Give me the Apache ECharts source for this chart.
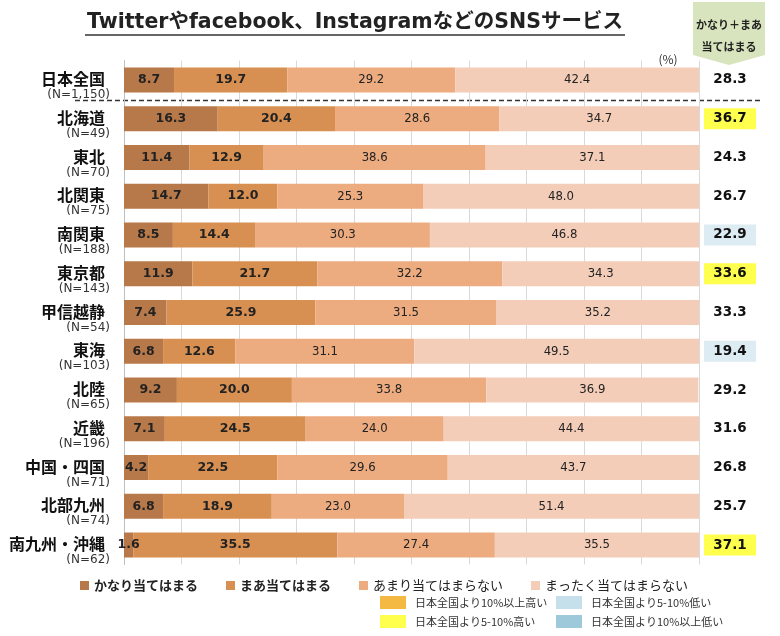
<!DOCTYPE html>
<html>
<head>
<meta charset="utf-8">
<title>SNSサービス</title>
<style>
    html, body { margin: 0; padding: 0; background: #fff; }
    #main { width: 780px; height: 636px; }
</style>
</head>
<body>
<div id="main"></div>
<script src="https://cdn.jsdelivr.net/npm/echarts@6/dist/echarts.min.js"></script>
<script type="text/javascript">
    // 地域と回答者数
    var regions = ['日本全国', '北海道', '東北', '北関東', '南関東', '東京都', '甲信越静', '東海', '北陸', '近畿', '中国・四国', '北部九州', '南九州・沖縄'];
    var sampleN = ['1,150', '49', '70', '75', '188', '143', '54', '103', '65', '196', '71', '74', '62'];
    // 回答割合 (%)
    var kanari = [8.7, 16.3, 11.4, 14.7, 8.5, 11.9, 7.4, 6.8, 9.2, 7.1, 4.2, 6.8, 1.6];
    var maa = [19.7, 20.4, 12.9, 12.0, 14.4, 21.7, 25.9, 12.6, 20.0, 24.5, 22.5, 18.9, 35.5];
    var amari = [29.2, 28.6, 38.6, 25.3, 30.3, 32.2, 31.5, 31.1, 33.8, 24.0, 29.6, 23.0, 27.4];
    var mattaku = [42.4, 34.7, 37.1, 48.0, 46.8, 34.3, 35.2, 49.5, 36.9, 44.4, 43.7, 51.4, 35.5];
    // かなり＋まあ当てはまる と 色分け
    var topTwo = ['28.3', '36.7', '24.3', '26.7', '22.9', '33.6', '33.3', '19.4', '29.2', '31.6', '26.8', '25.7', '37.1'];
    var mark = ['n', 'hi', 'n', 'n', 'lo', 'hi', 'n', 'lo', 'n', 'n', 'n', 'n', 'hi'];
    var seriesNames = ['かなり当てはまる', 'まあ当てはまる', 'あまり当てはまらない', 'まったく当てはまらない'];

    var colors = ['#B8794A', '#D89052', '#EDAB80', '#F4CDB9'];
    var jp = "'Noto Sans CJK JP', sans-serif";
    var num = "'DejaVu Sans', sans-serif";
    var narrow = "'Liberation Sans Narrow', 'DejaVu Sans Condensed', sans-serif";

    var myChart = echarts.init(document.getElementById('main'));

    function barSeries(name, data, idx) {
        var strong = idx < 2;
        return {
            name: name,
            type: 'bar',
            stack: 'all',
            barWidth: 25,
            color: colors[idx],
            data: data,
            label: {
                show: true,
                position: 'inside',
                formatter: function (p) { return p.value.toFixed(1); },
                color: '#222',
                fontFamily: strong ? num : narrow,
                fontWeight: strong ? 'bold' : 'normal',
                fontSize: strong ? 12.5 : 13
            },
            emphasis: { disabled: true }
        };
    }

    var keyItems = [
        { x: 380, y: 596, color: '#F4B942', text: '日本全国より10%以上高い' },
        { x: 556, y: 596, color: '#C6E0EB', text: '日本全国より5-10%低い' },
        { x: 380, y: 615, color: '#FFFF4D', text: '日本全国より5-10%高い' },
        { x: 556, y: 615, color: '#9EC9DB', text: '日本全国より10%以上低い' }
    ];
    var keyGraphics = [];
    keyItems.forEach(function (k) {
        keyGraphics.push({ type: 'rect', shape: { x: k.x, y: k.y, width: 26, height: 13 }, style: { fill: k.color } });
        keyGraphics.push({ type: 'text', x: k.x + 35, y: k.y + 6.5, style: { text: k.text, fontSize: 11, fontFamily: jp, fill: '#333', verticalAlign: 'middle' } });
    });

    var option = {
        backgroundColor: '#fff',
        animation: false,
        grid: { left: 124, right: 81, top: 60.6, bottom: 71.6 },
        xAxis: {
            type: 'value',
            min: 0,
            max: 100,
            interval: 10,
            axisLabel: { show: false },
            axisLine: { show: false },
            axisTick: { show: false },
            splitLine: { lineStyle: { color: '#D9D9D9', width: 1 } }
        },
        yAxis: [{
            type: 'category',
            inverse: true,
            data: regions,
            axisLine: { show: true, lineStyle: { color: '#BFBFBF' } },
            axisTick: { show: false },
            axisLabel: {
                margin: 14,
                padding: [12, 0, 0, 0],
                formatter: function (v, i) {
                    return '{a|' + v + '}\n{b|(N=' + sampleN[i] + ')}';
                },
                rich: {
                    a: { fontFamily: jp, fontWeight: 'bold', fontSize: 16, color: '#111', lineHeight: 18, align: 'right', padding: [0, 5, 0, 0] },
                    b: { fontFamily: num, fontSize: 12, color: '#333', lineHeight: 14, align: 'right' }
                }
            }
        }, {
            type: 'category',
            inverse: true,
            position: 'right',
            data: regions,
            axisLine: { show: false },
            axisTick: { show: false },
            axisLabel: {
                margin: 5,
                align: 'left',
                formatter: function (v, i) {
                    return '{' + mark[i] + '|' + topTwo[i] + '}';
                },
                rich: {
                    n: { fontFamily: num, fontWeight: 'bold', fontSize: 13.5, color: '#111', width: 52, height: 21, lineHeight: 21, align: 'center' },
                    hi: { fontFamily: num, fontWeight: 'bold', fontSize: 13.5, color: '#111', width: 52, height: 21, lineHeight: 21, align: 'center', backgroundColor: '#FFFF4D' },
                    lo: { fontFamily: num, fontWeight: 'bold', fontSize: 13.5, color: '#111', width: 52, height: 21, lineHeight: 21, align: 'center', backgroundColor: '#DDEBF3' }
                }
            }
        }],
        legend: {
            left: 75,
            top: 574,
            icon: 'rect',
            itemWidth: 9,
            itemHeight: 9,
            itemGap: 28,
            selectedMode: false,
            textStyle: { fontFamily: jp, fontSize: 13, color: '#222' },
            data: [
                { name: seriesNames[0], textStyle: { fontWeight: 'bold' } },
                { name: seriesNames[1], textStyle: { fontWeight: 'bold' } },
                { name: seriesNames[2] },
                { name: seriesNames[3] }
            ]
        },
        graphic: [
            {
                type: 'text', x: 355, y: 23,
                style: { text: 'Twitterやfacebook、InstagramなどのSNSサービス', fontFamily: "'DejaVu Sans', 'Noto Sans CJK JP'", fontWeight: 'bold', fontSize: 20.5, fill: '#222', textAlign: 'center', textVerticalAlign: 'middle' }
            },
            { type: 'line', shape: { x1: 85, y1: 35, x2: 625, y2: 35 }, style: { stroke: '#333', lineWidth: 1.5 } },
            {
                type: 'polygon',
                shape: { points: [[693, 2], [765, 2], [765, 55], [729, 65], [693, 55]] },
                style: { fill: '#D7E4BD' }
            },
            {
                type: 'text', x: 729, y: 36,
                style: { text: 'かなり＋まあ\n当てはまる', fontFamily: jp, fontWeight: 'bold', fontSize: 11, lineHeight: 22, fill: '#222', textAlign: 'center', textVerticalAlign: 'middle' }
            },
            { type: 'text', x: 668, y: 59, style: { text: '(%)', fontFamily: jp, fontSize: 12, fill: '#333', textAlign: 'center', textVerticalAlign: 'middle' } },
            { type: 'line', shape: { x1: 75, y1: 100.5, x2: 762, y2: 100.5 }, style: { stroke: '#333', lineWidth: 1.3, lineDash: [5, 3] } }
        ].concat(keyGraphics),
        series: [
            barSeries(seriesNames[0], kanari, 0),
            barSeries(seriesNames[1], maa, 1),
            barSeries(seriesNames[2], amari, 2),
            barSeries(seriesNames[3], mattaku, 3)
        ]
    };
    myChart.setOption(option);
</script>
</body>
</html>
